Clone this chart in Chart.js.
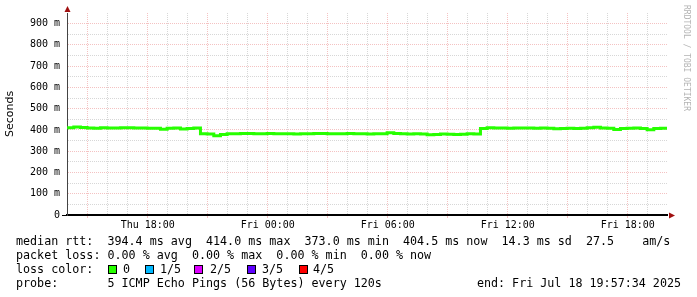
<!DOCTYPE html>
<html lang="en">
<head>
<meta charset="UTF-8">
<title>SmokePing - median rtt</title>
<script src="https://cdn.jsdelivr.net/npm/chart.js"></script>
<style>
  html, body { margin: 0; padding: 0; background: #fff; }
  #wrap { width: 697px; height: 297px; }
</style>
</head>
<body>
<div id="wrap"><canvas id="myChart" width="697" height="297"></canvas></div>
<script>
// rrd samples: first sample minute (counted from Thu 00:00) and step in minutes
var startMinute = 838;
var stepMinutes = 20;

// median rtt in ms, one value per step
var medianRtt = [
    410, 414, 411, 409, 408, 410, 409, 409, 410, 410, 409, 409, 408, 408, 403, 408, 409, 405, 407, 409,
    382, 381, 373, 379, 382, 382, 383, 383, 382, 382, 383, 382, 382, 382, 381, 382, 382, 383, 383, 382,
    382, 382, 383, 382, 382, 381, 382, 382, 387, 383, 382, 381, 382, 381, 378, 379, 381, 380, 379, 380,
    382, 381,
    407, 410, 409, 409, 408, 409, 409, 409, 408, 409, 408, 406, 407, 408, 407, 408, 410, 413, 409, 408,
    402, 407, 408, 409, 407, 401, 407, 408, 404.5
];

var xMinHour = 13.96;   // Thu 13:57:34
var xMaxHour = 43.96;   // Fri 19:57:34
var yMaxMs = 950;
var dayNames = ['Thu', 'Fri'];

var statLine = 'median rtt:  394.4 ms avg  414.0 ms max  373.0 ms min  404.5 ms now  14.3 ms sd  27.5    am/s';
var lossLine = 'packet loss: 0.00 % avg  0.00 % max  0.00 % min  0.00 % now';
var lossLabels = ['0', '1/5', '2/5', '3/5', '4/5'];
var lossColors = ['#26ff00', '#00b8ff', '#dd00ff', '#5e00ff', '#ff0000'];
var probeLine = 'probe:       5 ICMP Echo Pings (56 Bytes) every 120s';
var endText = 'end: Fri Jul 18 19:57:34 2025';
var creditText = 'RRDTOOL / TOBI OETIKER';

var points = medianRtt.map(function (v, i) {
    return { x: (startMinute + i * stepMinutes) / 60, y: v };
});

var RED_GRID = 'rgba(230, 120, 120, 0.45)';
var GRAY_GRID = 'rgba(175, 175, 175, 0.5)';

function pad2(n) { return (n < 10 ? '0' : '') + n; }

var extras = {
    id: 'extras',
    afterDraw: function (chart) {
        var ctx = chart.ctx;
        var a = chart.chartArea;
        ctx.save();
        // arrows
        ctx.fillStyle = '#a01010';
        ctx.beginPath();
        ctx.moveTo(a.left + 0.5, a.top - 7);
        ctx.lineTo(a.left - 2.5, a.top - 1);
        ctx.lineTo(a.left + 3.5, a.top - 1);
        ctx.fill();
        ctx.beginPath();
        ctx.moveTo(a.right + 8, a.bottom + 0.5);
        ctx.lineTo(a.right + 2, a.bottom - 2.5);
        ctx.lineTo(a.right + 2, a.bottom + 3.5);
        ctx.fill();

        // legend lines
        ctx.fillStyle = '#000';
        ctx.font = '11.7px "DejaVu Sans Mono"';
        ctx.textBaseline = 'middle';
        ctx.textAlign = 'left';
        ctx.fillText(statLine, 16, 241.5);
        ctx.fillText(lossLine, 16, 255.5);
        ctx.fillText('loss color:', 16, 269.5);
        var swX = [108, 145, 194, 247, 299];
        var swLabelX = [123, 160, 210, 262, 313];
        lossLabels.forEach(function (t, i) {
            ctx.fillStyle = lossColors[i];
            ctx.fillRect(swX[i], 265, 9, 9);
            ctx.strokeStyle = '#000';
            ctx.lineWidth = 1;
            ctx.strokeRect(swX[i] + 0.5, 265.5, 8, 8);
            ctx.fillStyle = '#000';
            ctx.fillText(t, swLabelX[i], 269.5);
        });
        ctx.fillText(probeLine, 16, 283.5);
        ctx.textAlign = 'right';
        ctx.fillText(endText, 681, 283.5);

        // credit
        ctx.textAlign = 'left';
        ctx.translate(686, 5);
        ctx.rotate(Math.PI / 2);
        ctx.fillStyle = '#b4b4b4';
        ctx.font = '8px "DejaVu Sans Mono"';
        ctx.fillText(creditText, 0, 0);
        ctx.restore();
    }
};

new Chart(document.getElementById('myChart'), {
    type: 'line',
    data: {
        datasets: [{
            label: 'median rtt',
            data: points,
            borderColor: lossColors[0],
            borderWidth: 3,
            pointRadius: 0,
            stepped: true,
            fill: false
        }]
    },
    options: {
        responsive: false,
        animation: false,
        layout: { padding: { top: 13, right: 30, bottom: 62, left: 0 } },
        plugins: { legend: { display: false }, tooltip: { enabled: false } },
        scales: {
            x: {
                type: 'linear',
                min: xMinHour,
                max: xMaxHour,
                afterFit: function (s) { s.height = 20; },
                afterBuildTicks: function (s) {
                    var t = [];
                    for (var h = Math.ceil(s.min); h <= Math.floor(s.max); h++) t.push({ value: h });
                    s.ticks = t;
                },
                ticks: {
                    stepSize: 1,
                    autoSkip: false,
                    maxRotation: 0,
                    padding: 1,
                    color: '#000',
                    font: { family: 'DejaVu Sans Mono', size: 10 },
                    callback: function (v) {
                        v = Math.round(v);
                        if (v % 6 !== 0) return '';
                        return dayNames[Math.floor(v / 24)] + ' ' + pad2(v % 24) + ':00';
                    }
                },
                grid: {
                    color: function (c) {
                        var v = Math.round(c.tick ? c.tick.value : 0);
                        return v % 3 === 0 ? RED_GRID : GRAY_GRID;
                    },
                    tickColor: function (c) {
                        var v = Math.round(c.tick ? c.tick.value : 0);
                        return v % 3 === 0 ? RED_GRID : 'rgba(0,0,0,0)';
                    },
                    tickLength: 3,
                    lineWidth: 1
                },
                border: { display: true, color: '#000', width: 2, dash: [1, 1] }
            },
            y: {
                min: 0,
                max: yMaxMs,
                afterFit: function (s) { s.width = 67; },
                title: {
                    display: true,
                    text: 'Seconds',
                    color: '#000',
                    font: { family: 'DejaVu Sans', size: 11 },
                    padding: { top: 4, bottom: 0 }
                },
                ticks: {
                    stepSize: 50,
                    autoSkip: false,
                    padding: 2,
                    color: '#000',
                    font: { family: 'DejaVu Sans Mono', size: 10 },
                    callback: function (v) {
                        if (v % 100 !== 0) return '';
                        return v === 0 ? '0' : v + ' m';
                    }
                },
                grid: {
                    color: function (c) {
                        var v = c.tick ? c.tick.value : 0;
                        if (v <= 0 || v >= yMaxMs) return 'rgba(0,0,0,0)';
                        return v % 100 === 0 ? RED_GRID : GRAY_GRID;
                    },
                    tickColor: function (c) {
                        var v = c.tick ? c.tick.value : 1;
                        return v === 0 ? '#000' : 'rgba(0,0,0,0)';
                    },
                    tickLength: 5,
                    lineWidth: 1
                },
                border: { display: true, color: '#444', width: 1, dash: [1, 1] }
            }
        }
    },
    plugins: [extras]
});
</script>
</body>
</html>
